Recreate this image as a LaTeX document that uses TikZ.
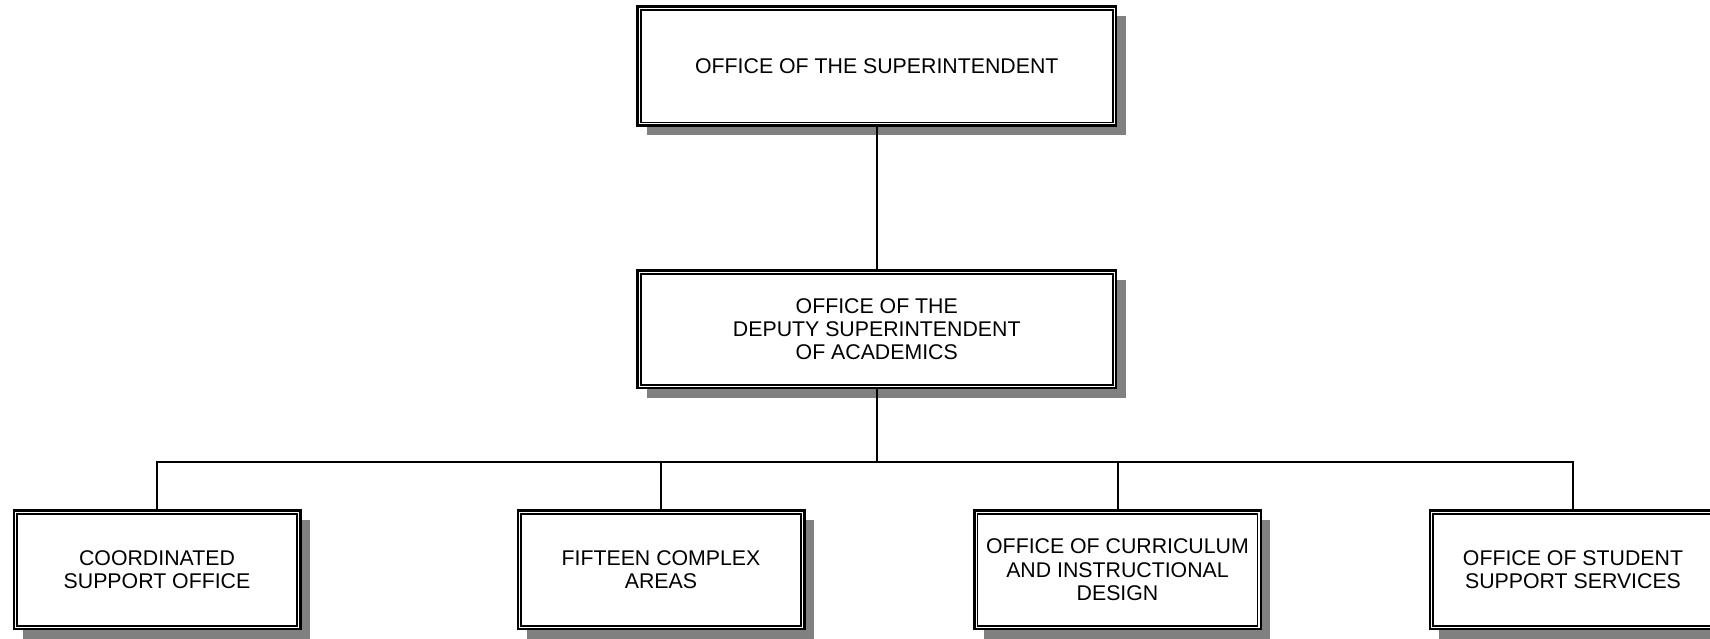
\documentclass[tikz,border=0pt]{standalone}
\usepackage{fontspec}
\setmainfont{Liberation Sans}
\usetikzlibrary{shadows}
\definecolor{shadowgray}{RGB}{128,128,128}
\tikzset{
  orgbox/.style={draw=black, line width=2.5pt, fill=white, inner sep=0pt,
    align=center, font=\fontsize{21.3}{23.4}\selectfont,
    general shadow={fill=shadowgray, shadow xshift=9.5pt, shadow yshift=-9.5pt}},
  bigbox/.style={orgbox, minimum width=478.5pt, minimum height=119pt},
  smallbox/.style={orgbox, minimum width=286.5pt, minimum height=118.5pt},
  innerline/.style={draw=black, line width=1.5pt},
  conn/.style={draw=black, line width=2pt}
}
\newcommand{\innerframe}[1]{\draw[innerline] ([shift={(4.5,4.5)}]#1.north west) rectangle ([shift={(-4.5,-4.5)}]#1.south east);}
\begin{document}
\begin{tikzpicture}[x=1pt,y=-1pt]
\useasboundingbox (0,0) rectangle (1710,638);
\fill[white] (0,0) rectangle (1710,638);

\node[bigbox] (top) at (876.75,66) {OFFICE OF THE SUPERINTENDENT};
\node[bigbox, minimum height=117.5pt] (mid) at (876.75,329.25) {OFFICE OF THE\\DEPUTY SUPERINTENDENT\\OF ACADEMICS};
\node[smallbox] (b1) at (157,569.75) {COORDINATED\\SUPPORT OFFICE};
\node[smallbox] (b2) at (661,569.75) {FIFTEEN COMPLEX\\AREAS};
\node[smallbox] (b3) at (1117.5,569.75) {OFFICE OF CURRICULUM\\AND INSTRUCTIONAL\\DESIGN};
\node[smallbox] (b4) at (1573,569.75) {OFFICE OF STUDENT\\SUPPORT SERVICES};

\innerframe{top}
\innerframe{mid}
\innerframe{b1}
\innerframe{b2}
\innerframe{b3}
\innerframe{b4}

\coordinate (bus) at (876.75,461.7);
\draw[conn] (top.south) -- (mid.north);
\draw[conn] (mid.south) -- (bus);
\draw[conn] (b1.north) |- (bus) -| (b4.north);
\draw[conn] (b2.north) -- (b2.north |- bus);
\draw[conn] (b3.north) -- (b3.north |- bus);
\end{tikzpicture}
\end{document}
